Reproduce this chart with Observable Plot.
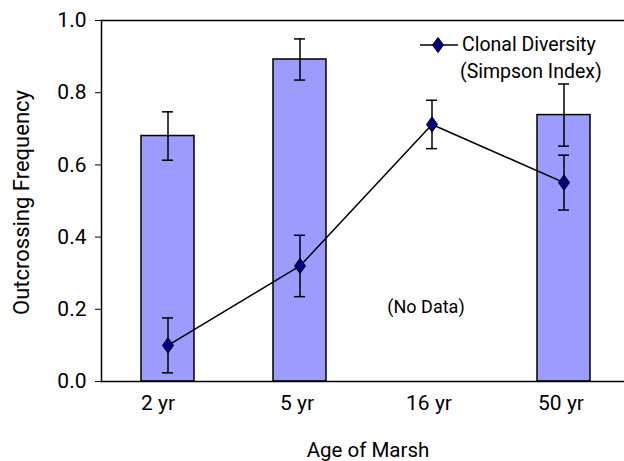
<!DOCTYPE html>
<html>
<head>
<meta charset="utf-8">
<script src="https://cdn.jsdelivr.net/npm/d3@7"></script>
<script src="https://cdn.jsdelivr.net/npm/@observablehq/plot@0.6"></script>
<style>
  html, body { margin: 0; padding: 0; background: #fff; }
  #wrap { position: relative; width: 624px; height: 461px; font-family: Roboto, "Liberation Sans", sans-serif; }
  #legend { position: absolute; left: 418px; top: 31px; font-size: 19.5px; line-height: 27px; color: #000; }
  #legend .row { display: flex; align-items: center; }
  #legend .sub { padding-left: 42px; }
</style>
</head>
<body>
<div id="wrap"></div>
<script>
// ---- data ----
const ages = ["2 yr", "5 yr", "16 yr", "50 yr"];
// Outcrossing frequency (bars); 16 yr has no data
const barAges = ["2 yr", "5 yr", "50 yr"];
const barValues = [0.68, 0.892, 0.738];
const barErrors = [0.067, 0.057, 0.086];
// Clonal diversity (Simpson index), line
const lineValues = [0.10, 0.32, 0.712, 0.551];
const lineErrors = [0.076, 0.085, 0.067, 0.076];
const yTicks = [0, 0.2, 0.4, 0.6, 0.8, 1.0];
const noDataAge = "16 yr";
const noDataY = 0.205;

const bars = barAges.map((a, i) => ({age: a, v: barValues[i], e: barErrors[i]}));
const pts = ages.map((a, i) => ({age: a, v: lineValues[i], e: lineErrors[i]}));

const diamond = {
  draw(ctx, size) {
    const r = Math.sqrt(size / Math.PI);
    const w = r * 0.85, h = r * 1.18;
    ctx.moveTo(0, -h); ctx.lineTo(w, 0); ctx.lineTo(0, h); ctx.lineTo(-w, 0); ctx.closePath();
  }
};

const font = "Roboto, 'Liberation Sans', sans-serif";
const capInset = 21;

const chart = Plot.plot({
  width: 624,
  height: 461,
  marginLeft: 101,
  marginRight: 0,
  marginTop: 20,
  marginBottom: 80,
  style: {fontFamily: font, fontSize: "21px", color: "#000", background: "#fff"},
  x: {domain: ages, range: [101, 629], paddingInner: 0.6, paddingOuter: 0.3, label: null},
  y: {domain: [0, 1], label: null},
  marks: [
    Plot.barY(bars, {x: "age", y: "v", fill: "#9c9cff", stroke: "#000", strokeWidth: 1.5}),
    // bar error bars
    Plot.ruleX(bars, {x: "age", y1: d => d.v - d.e, y2: d => d.v + d.e, stroke: "#000", strokeWidth: 1.5}),
    Plot.tickY(bars, {x: "age", y: d => d.v + d.e, stroke: "#000", strokeWidth: 1.5, insetLeft: capInset, insetRight: capInset}),
    Plot.tickY(bars, {x: "age", y: d => d.v - d.e, stroke: "#000", strokeWidth: 1.5, insetLeft: capInset, insetRight: capInset}),
    // line error bars
    Plot.ruleX(pts, {x: "age", y1: d => d.v - d.e, y2: d => d.v + d.e, stroke: "#000", strokeWidth: 1.5}),
    Plot.tickY(pts, {x: "age", y: d => d.v + d.e, stroke: "#000", strokeWidth: 1.5, insetLeft: capInset, insetRight: capInset}),
    Plot.tickY(pts, {x: "age", y: d => d.v - d.e, stroke: "#000", strokeWidth: 1.5, insetLeft: capInset, insetRight: capInset}),
    Plot.line(pts, {x: "age", y: "v", stroke: "#000", strokeWidth: 1.5}),
    Plot.dot(pts, {x: "age", y: "v", symbol: diamond, r: 6.5, fill: "#000080", stroke: "#000", strokeWidth: 1}),
    Plot.text([noDataAge], {x: d => d, y: () => noDataY, text: () => "(No Data)", fontSize: 18, dx: -6}),
    // frame lines
    Plot.ruleY([0, 1], {stroke: "#000", strokeWidth: 1.5}),
    Plot.frame({anchor: "left", stroke: "#000", strokeWidth: 1.5}),
    Plot.axisY({ticks: yTicks, tickFormat: d3.format(".1f"), tickSize: 6, tickPadding: 9, fontSize: 21, label: null}),
    Plot.axisX(ages.slice(0, 1), {tickSize: 0, tickPadding: 14, fontSize: 21, dx: -10, label: null}),
    Plot.axisX(ages.slice(1), {tickSize: 0, tickPadding: 14, fontSize: 21, dx: -3, label: null}),
    Plot.text(["Outcrossing Frequency"], {frameAnchor: "left", textAnchor: "middle", lineAnchor: "middle", dx: -80, dy: 1.5, rotate: -90, fontSize: 22}),
    Plot.text(["Age of Marsh"], {frameAnchor: "bottom", textAnchor: "middle", lineAnchor: "middle", dy: 69, dx: 5, fontSize: 20.5})
  ]
});

const wrap = document.getElementById("wrap");
wrap.appendChild(chart);

const legend = document.createElement("div");
legend.id = "legend";
legend.innerHTML = `
  <div class="row">
    <svg width="42" height="20" style="margin-right:2px">
      <line x1="2" y1="10" x2="40" y2="10" stroke="#000" stroke-width="1.5"></line>
      <path d="M20,2.5 L25.5,10 L20,17.5 L14.5,10 Z" fill="#000080" stroke="#000" stroke-width="1"></path>
    </svg>
    <span>Clonal Diversity</span>
  </div>
  <div class="sub">(Simpson Index)</div>`;
wrap.appendChild(legend);
</script>
</body>
</html>
